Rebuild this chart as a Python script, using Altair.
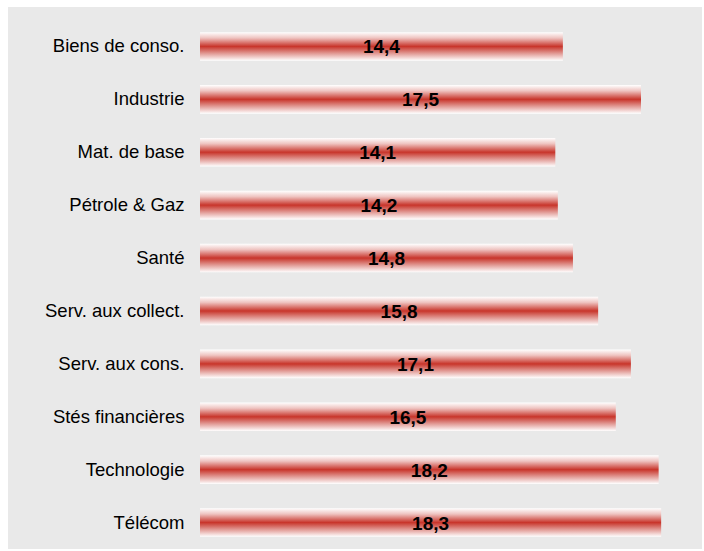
import altair as alt
import pandas as pd

categories = ["Biens de conso.", "Industrie", "Mat. de base", "Pétrole & Gaz", "Santé",
              "Serv. aux collect.", "Serv. aux cons.", "Stés financières", "Technologie", "Télécom"]
values = [14.4, 17.5, 14.1, 14.2, 14.8, 15.8, 17.1, 16.5, 18.2, 18.3]

df = pd.DataFrame({"cat": categories, "val": values})

FONT = "Liberation Sans"

grad = alt.Gradient(
    gradient="linear",
    stops=[
        alt.GradientStop(color="#ffffff", offset=0),
        alt.GradientStop(color="#efc4c1", offset=0.2),
        alt.GradientStop(color="#c8352b", offset=0.5),
        alt.GradientStop(color="#e29c97", offset=0.75),
        alt.GradientStop(color="#ffffff", offset=1),
    ],
    x1=0, x2=0, y1=0, y2=1,
)

yenc = alt.Y("cat:N", sort=categories,
             scale=alt.Scale(paddingInner=0.46, paddingOuter=0.23),
             axis=alt.Axis(title=None, domain=False, ticks=False, labelPadding=16, zindex=1,
                           labelFont=FONT, labelFontSize=18.5, labelColor="#000000"))
xscale = alt.Scale(domain=[0, 20])

panel = alt.Chart(pd.DataFrame({"a": [0]})).mark_rect(color="#e9e9e9").encode(
    x=alt.value(-192), x2=alt.value(502), y=alt.value(-13), y2=alt.value(529)
)

bars = alt.Chart(df).mark_bar(color=grad).encode(
    x=alt.X("val:Q", scale=xscale, axis=None),
    y=yenc,
)

labels = alt.Chart(df).transform_calculate(
    mid="datum.val / 2",
    lab="replace(format(datum.val, '.1f'), '.', ',')",
).mark_text(font=FONT, fontSize=19, fontWeight="bold", color="#000000",
            align="center", baseline="middle", dy=1).encode(
    x=alt.X("mid:Q", scale=xscale, axis=None),
    y=alt.Y("cat:N", sort=categories),
    text="lab:N",
)

chart = alt.layer(panel, bars, labels).properties(
    width=504, height=529,
    autosize=alt.AutoSizeParams(type="none"),
    padding={"left": 200, "top": 20, "right": 0, "bottom": 2},
    background="#ffffff",
).configure_view(stroke=None)

chart.save("out.html", embed_options={"renderer": "svg", "actions": False})
